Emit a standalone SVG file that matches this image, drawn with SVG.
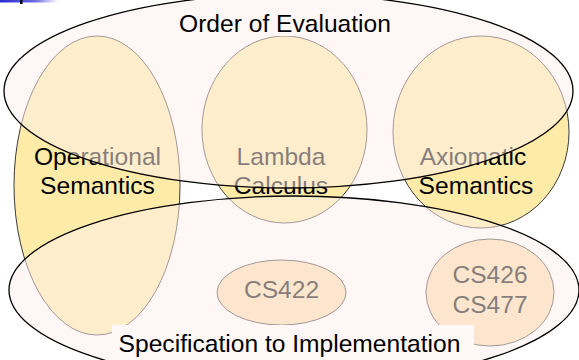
<svg xmlns="http://www.w3.org/2000/svg" width="579" height="360" viewBox="0 0 579 360">
<defs>
<linearGradient id="bar" x1="0" y1="0" x2="1" y2="0">
<stop offset="0" stop-color="#2a2ad0"/>
<stop offset="0.6" stop-color="#6a6ae0"/>
<stop offset="1" stop-color="#ffffff"/>
</linearGradient>
<style>
.tall{fill:#FFEBA8;stroke:#3a3a3a;stroke-width:1}
.course{fill:#FADCAB;stroke:#3a3a3a;stroke-width:1}
.big{fill:#FFEFEB;fill-opacity:0.52;stroke:#000;stroke-width:1.3}
.lbl{fill:#FFF8F6}
text{font-family:"Liberation Sans",Arial,sans-serif;font-size:24.6px;fill:#000;text-anchor:middle}
</style>
</defs>
<rect width="579" height="360" fill="#fff"/>
<rect x="0" y="0" width="58" height="2.5" fill="url(#bar)"/>
<rect x="20" y="0" width="2.5" height="4" fill="#000"/>
<g id="operational">
<ellipse class="tall" cx="97" cy="185.5" rx="83" ry="149.5"/>
<text x="97.5" y="165">Operational</text>
<text x="97.5" y="194">Semantics</text>
</g>
<g id="lambda">
<ellipse class="tall" cx="284.5" cy="129.5" rx="82.5" ry="93.5"/>
<text x="281" y="165">Lambda</text>
<text x="281" y="194">Calculus</text>
</g>
<g id="axiomatic">
<ellipse class="tall" cx="481" cy="132" rx="88" ry="96"/>
<text x="473" y="165">Axiomatic</text>
<text x="476" y="194">Semantics</text>
</g>
<g id="cs422">
<ellipse class="course" cx="281.5" cy="292.5" rx="64.5" ry="32.5"/>
<text x="281.5" y="298">CS422</text>
</g>
<g id="cs426">
<ellipse class="course" cx="490" cy="292.5" rx="64" ry="53.5"/>
<text x="490" y="283">CS426</text>
<text x="490" y="313">CS477</text>
</g>
<g id="order">
<ellipse class="big" cx="288.5" cy="91" rx="284.5" ry="97"/>
<rect class="lbl" x="172" y="10" width="230" height="26"/>
<text x="285" y="32">Order of Evaluation</text>
</g>
<g id="spec">
<ellipse class="big" cx="294" cy="290" rx="285" ry="94"/>
<rect class="lbl" x="112" y="325" width="362" height="35"/>
<text x="289.5" y="352">Specification to Implementation</text>
</g>
<g id="connectors"></g>
</svg>
